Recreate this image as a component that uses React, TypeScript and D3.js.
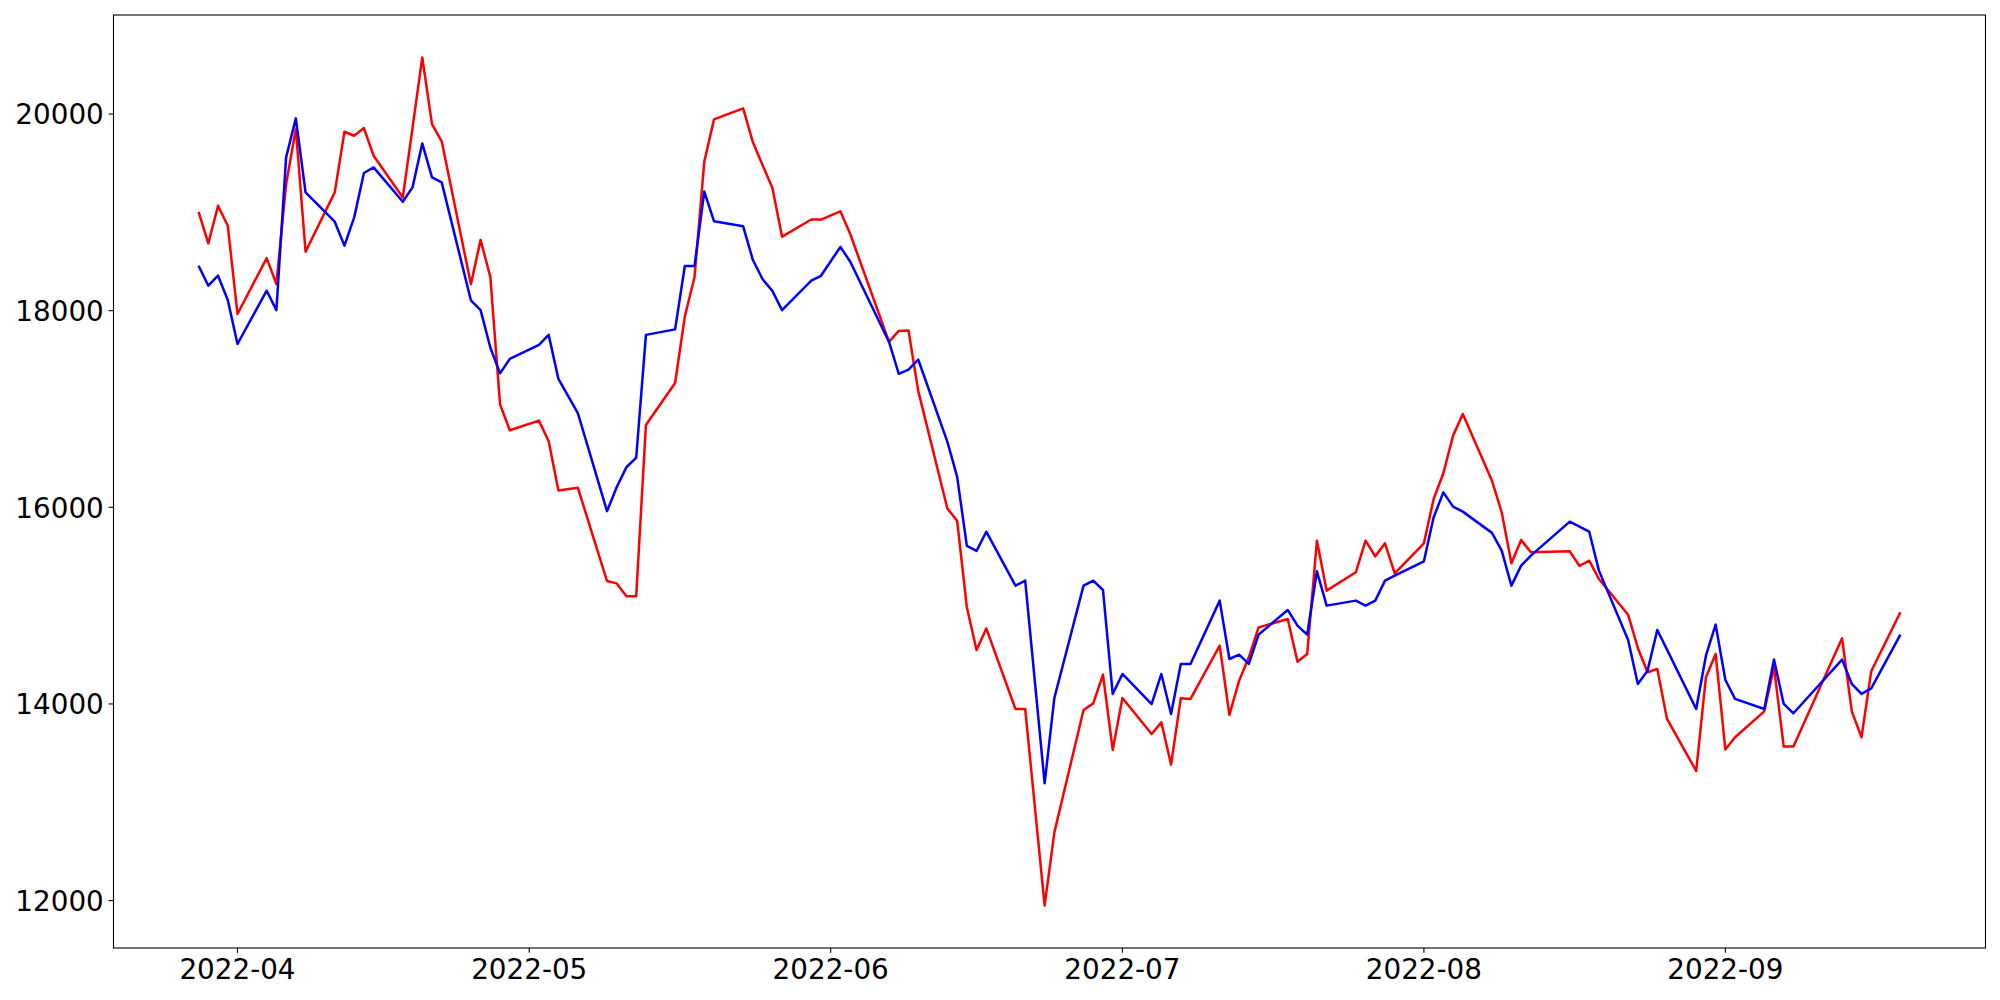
import React from "react";
import * as d3 from "d3";

const dates: string[] = [
  "2022-03-28","2022-03-29","2022-03-30","2022-03-31","2022-04-01",
  "2022-04-04","2022-04-05","2022-04-06","2022-04-07","2022-04-08",
  "2022-04-11","2022-04-12","2022-04-13","2022-04-14","2022-04-15",
  "2022-04-18","2022-04-19","2022-04-20","2022-04-21","2022-04-22",
  "2022-04-25","2022-04-26","2022-04-27","2022-04-28","2022-04-29",
  "2022-05-02","2022-05-03","2022-05-04","2022-05-06",
  "2022-05-09","2022-05-10","2022-05-11","2022-05-12","2022-05-13",
  "2022-05-16","2022-05-17","2022-05-18","2022-05-19","2022-05-20",
  "2022-05-23","2022-05-24","2022-05-25","2022-05-26","2022-05-27",
  "2022-05-30","2022-05-31","2022-06-02","2022-06-03",
  "2022-06-07","2022-06-08","2022-06-09","2022-06-10",
  "2022-06-13","2022-06-14","2022-06-15","2022-06-16","2022-06-17",
  "2022-06-20","2022-06-21","2022-06-23","2022-06-24",
  "2022-06-27","2022-06-28","2022-06-29","2022-06-30","2022-07-01",
  "2022-07-04","2022-07-05","2022-07-06","2022-07-07","2022-07-08",
  "2022-07-11","2022-07-12","2022-07-13","2022-07-14","2022-07-15",
  "2022-07-18","2022-07-19","2022-07-20","2022-07-21","2022-07-22",
  "2022-07-25","2022-07-26","2022-07-27","2022-07-28","2022-07-29",
  "2022-08-01","2022-08-02","2022-08-03","2022-08-04","2022-08-05",
  "2022-08-08","2022-08-09","2022-08-10","2022-08-11","2022-08-12",
  "2022-08-16","2022-08-17","2022-08-18","2022-08-19",
  "2022-08-22","2022-08-23","2022-08-24","2022-08-25","2022-08-26",
  "2022-08-29","2022-08-30","2022-08-31","2022-09-01","2022-09-02",
  "2022-09-05","2022-09-06","2022-09-07","2022-09-08",
  "2022-09-13","2022-09-14","2022-09-15","2022-09-16",
  "2022-09-19",
];

const seriesRed: number[] = [
  19006, 18684, 19067, 18864, 17966,
  18535, 18271, 19288, 19847, 18600,
  19203, 19820, 19779, 19857, 19576,
  19152, 19860, 20576, 19898, 19722,
  18270, 18720, 18343, 17047, 16784,
  16882, 16672, 16171, 16199,
  15250, 15226, 15096, 15096, 16837,
  17264, 17940, 18343, 19516, 19946,
  20058, 19712, 19480, 19251, 18753,
  18927, 18927, 19010, 18782,
  17682, 17794, 17798, 17184,
  15988, 15864, 14984, 14548, 14768,
  13949, 13949, 11949, 12694,
  13939, 14006, 14298, 13532, 14061,
  13694, 13813, 13383, 14057, 14051,
  14593, 13888, 14237, 14474, 14779,
  14864, 14430, 14508, 15661, 15152,
  15339, 15661, 15501, 15634, 15329,
  15634, 16085, 16346, 16729, 16949,
  16271, 15949, 15430, 15668, 15542,
  15552, 15403, 15457, 15271,
  14908, 14569, 14322, 14356, 13847,
  13318, 14271, 14508, 13536, 13661,
  13925, 14373, 13566, 13566,
  14668, 13925, 13661, 14332,
  14932,
];

const seriesBlue: number[] = [
  18457, 18254, 18356, 18108, 17661,
  18203, 18006, 19559, 19956, 19203,
  18905, 18661, 18949, 19400, 19457,
  19108, 19254, 19701, 19356, 19305,
  18106, 18005, 17625, 17362, 17509,
  17653, 17754, 17306, 16959,
  15961, 16206, 16409, 16504, 17754,
  17810, 18455, 18455, 19211, 18910,
  18858, 18515, 18320, 18201, 18006,
  18305, 18355, 18649, 18500,
  17682, 17358, 17400, 17503,
  16665, 16312, 15607, 15557, 15752,
  15203, 15254, 13193, 14061,
  15203, 15254, 15159, 14101, 14305,
  13999, 14305, 13898, 14406, 14406,
  15051, 14457, 14501, 14407, 14705,
  14956, 14796, 14705, 15349, 15000,
  15051, 15000, 15051, 15254, 15305,
  15451, 15898, 16152, 16007, 15956,
  15740, 15559, 15203, 15407, 15508,
  15854, 15803, 15752, 15356,
  14651, 14203, 14339, 14752, 14552,
  13949, 14491, 14807, 14244, 14051,
  13949, 14451, 14000, 13905,
  14451, 14203, 14102, 14159,
  14705,
];

const yTickValues: number[] = [12000, 14000, 16000, 18000, 20000];

const W = 2000;
const H = 1000;
const M = { left: 113.5, right: 14.5, top: 15, bottom: 52 };
const FONT = "'DejaVu Sans', sans-serif";
const FS = 27.8;
const LW = 2.5;

export default function App() {
  const parsed = dates.map((s) => d3.utcParse("%Y-%m-%d")(s) as Date);
  const t0 = +parsed[0];
  const t1 = +parsed[parsed.length - 1];
  const tPad = (t1 - t0) * 0.05;
  const x = d3
    .scaleUtc()
    .domain([new Date(t0 - tPad), new Date(t1 + tPad)])
    .range([M.left, W - M.right]);

  const all = seriesRed.concat(seriesBlue);
  const vMin = d3.min(all) as number;
  const vMax = d3.max(all) as number;
  const vPad = (vMax - vMin) * 0.05;
  const y = d3
    .scaleLinear()
    .domain([vMin - vPad, vMax + vPad])
    .range([H - M.bottom, M.top]);

  const mkLine = (vals: number[]) =>
    d3
      .line<number>()
      .x((_, i) => x(parsed[i]))
      .y((v) => y(v))(vals) as string;

  const xTicks = d3.utcMonth.range(
    d3.utcMonth.ceil(x.domain()[0]),
    x.domain()[1]
  );
  const fmt = d3.utcFormat("%Y-%m");
  const tickLen = 4.86;
  const pad = 4.86;
  const bottom = H - M.bottom;

  return (
    <svg
      width={W}
      height={H}
      style={{ position: "absolute", left: 0, top: 0, background: "#fff" }}
    >
      <rect x={0} y={0} width={W} height={H} fill="#fff" />
      <path d={mkLine(seriesRed)} fill="none" stroke="#ff0000" strokeWidth={LW} strokeLinejoin="round" />
      <path d={mkLine(seriesBlue)} fill="none" stroke="#0000ff" strokeWidth={LW} strokeLinejoin="round" />
      <rect
        x={M.left}
        y={M.top}
        width={W - M.left - M.right}
        height={H - M.top - M.bottom}
        fill="none"
        stroke="#000"
        strokeWidth={1.1}
      />
      {yTickValues.map((v) => (
        <g key={v}>
          <line x1={M.left - tickLen} x2={M.left} y1={y(v)} y2={y(v)} stroke="#000" strokeWidth={1.1} />
          <text
            x={M.left - tickLen - pad}
            y={y(v)}
            dy="0.37em"
            textAnchor="end"
            fontFamily={FONT}
            fontSize={FS}
            fill="#000"
          >
            {v}
          </text>
        </g>
      ))}
      {xTicks.map((d) => (
        <g key={+d}>
          <line x1={x(d)} x2={x(d)} y1={bottom} y2={bottom + tickLen} stroke="#000" strokeWidth={1.1} />
          <text
            x={x(d)}
            y={bottom + tickLen + pad}
            dy="0.76em"
            textAnchor="middle"
            fontFamily={FONT}
            fontSize={FS}
            fill="#000"
          >
            {fmt(d)}
          </text>
        </g>
      ))}
    </svg>
  );
}
